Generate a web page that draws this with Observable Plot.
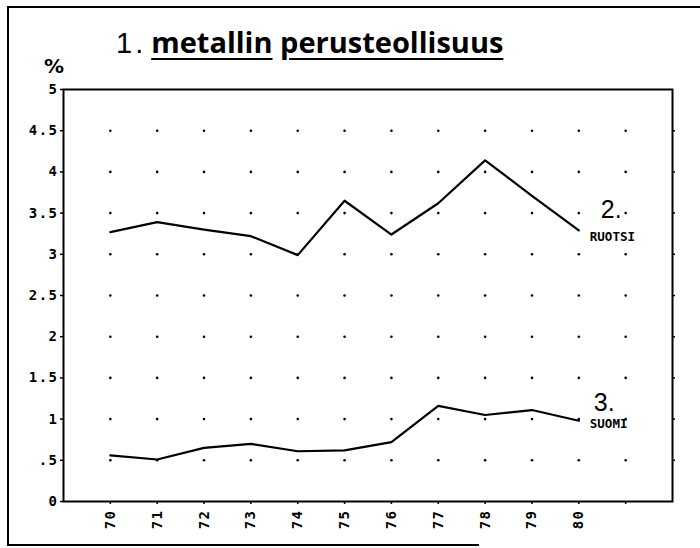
<!DOCTYPE html>
<html><head><meta charset="utf-8">
<script src="https://cdn.jsdelivr.net/npm/d3@7"></script>
<script src="https://cdn.jsdelivr.net/npm/@observablehq/plot@0.6"></script>
<style>
body{margin:0;background:#fff;}
#wrap{position:relative;width:700px;height:548px;overflow:hidden;background:#fff;}
#chart{position:absolute;left:0;top:0;}
#title{position:absolute;left:116px;top:27px;font-family:"Open Sans",sans-serif;font-weight:700;font-size:29px;line-height:29px;white-space:nowrap;color:#000;letter-spacing:0px;}
#title .one{font-family:"Liberation Sans",sans-serif;font-weight:400;font-size:29px;letter-spacing:3px;margin-right:5px;}
#title .u{text-decoration:underline;text-decoration-thickness:2px;text-underline-offset:5px;}
#pct{position:absolute;left:44px;top:56px;font-family:"DejaVu Sans",sans-serif;font-weight:700;font-size:20px;line-height:20px;}
#ftop{position:absolute;left:7px;top:6px;width:700px;height:2px;background:#000;}
#fleft{position:absolute;left:7px;top:6px;width:2px;height:540px;background:#000;}
#fbot{position:absolute;left:7px;top:544px;width:472px;height:2px;background:#000;}
.cp g[aria-label="y-axis tick label"] text, .cp g[aria-label="x-axis tick label"] text{letter-spacing:1.5px;}
</style></head><body>
<div id="wrap">
  <div id="chart"></div>
  <div id="ftop"></div><div id="fleft"></div><div id="fbot"></div>
  <div id="title"><span class="one">1.</span><span class="u">metallin</span> <span class="u">perusteollisuus</span></div>
  <div id="pct">%</div>
</div>
<script>
const years = [70, 71, 72, 73, 74, 75, 76, 77, 78, 79, 80];
const ruotsi = [3.27, 3.39, 3.30, 3.22, 2.99, 3.65, 3.24, 3.62, 4.14, 3.71, 3.29];
const suomi = [0.56, 0.51, 0.65, 0.70, 0.61, 0.62, 0.72, 1.16, 1.05, 1.11, 0.98];
const xTicks = [70, 71, 72, 73, 74, 75, 76, 77, 78, 79, 80, 81];
const xTickLabels = ["70", "71", "72", "73", "74", "75", "76", "77", "78", "79", "80", ""];
const yTicks = [0, 0.5, 1, 1.5, 2, 2.5, 3, 3.5, 4, 4.5, 5];
const yTickLabels = ["0", ".5", "1", "1.5", "2", "2.5", "3", "3.5", "4", "4.5", "5"];
const gridX = [70, 71, 72, 73, 74, 75, 76, 77, 78, 79, 80, 81];
const gridY = [0.5, 1, 1.5, 2, 2.5, 3, 3.5, 4, 4.5];
const seriesNames = ["RUOTSI", "SUOMI"];
const seriesNumbers = ["2.", "3."];

const rows = years.map((y, i) => ({year: y, ruotsi: ruotsi[i], suomi: suomi[i]}));
const grid = gridX.flatMap(x => gridY.map(y => ({x, y})));
const xLab = new Map(xTicks.map((v, i) => [v, xTickLabels[i]]));
const yLab = new Map(yTicks.map((v, i) => [v, yTickLabels[i]]));
const last = rows[rows.length - 1];
const mono = "'DejaVu Sans Mono', monospace";

const plot = Plot.plot({
  className: "cp",
  width: 700,
  height: 548,
  marginLeft: 63,
  marginRight: 28,
  marginTop: 89,
  marginBottom: 47,
  x: {domain: [69, 82]},
  y: {domain: [0, 5]},
  style: {background: "transparent", color: "#000"},
  marks: [
    Plot.dot(grid, {x: "x", y: "y", r: 1.3, fill: "#000", stroke: "none"}),
    Plot.frame({stroke: "#000", strokeWidth: 2}),
    Plot.axisY({ticks: yTicks, tickFormat: d => yLab.get(d), tickSize: 3, tickPadding: 2,
      fontFamily: mono, fontWeight: "bold", fontSize: 14, stroke: "#000", strokeWidth: 1.5}),
    Plot.axisY({anchor: "right", ticks: yTicks.slice(1, -1), tickFormat: () => "", tickSize: 2, stroke: "#000", strokeWidth: 1.5}),
    Plot.axisX({ticks: xTicks, tickFormat: d => xLab.get(d), tickSize: 3, tickPadding: 5, tickRotate: -90,
      fontFamily: mono, fontWeight: "bold", fontSize: 14, stroke: "#000", strokeWidth: 1.5}),
    Plot.line(rows, {x: "year", y: "ruotsi", stroke: "#000", strokeWidth: 2.2}),
    Plot.line(rows, {x: "year", y: "suomi", stroke: "#000", strokeWidth: 2.2}),
    Plot.text([last], {x: "year", y: "ruotsi", text: () => seriesNumbers[0], dx: 22, dy: -20, textAnchor: "start",
      fontFamily: "'Liberation Sans', sans-serif", fontSize: 25}),
    Plot.text([last], {x: "year", y: "ruotsi", text: () => seriesNames[0], dx: 11, dy: 7, textAnchor: "start",
      fontFamily: mono, fontWeight: "bold", fontSize: 12.5}),
    Plot.text([last], {x: "year", y: "suomi", text: () => seriesNumbers[1], dx: 15, dy: -18, textAnchor: "start",
      fontFamily: "'Liberation Sans', sans-serif", fontSize: 25}),
    Plot.text([last], {x: "year", y: "suomi", text: () => seriesNames[1], dx: 11, dy: 3, textAnchor: "start",
      fontFamily: mono, fontWeight: "bold", fontSize: 12.5})
  ]
});
document.getElementById("chart").appendChild(plot);
</script>
</body></html>
